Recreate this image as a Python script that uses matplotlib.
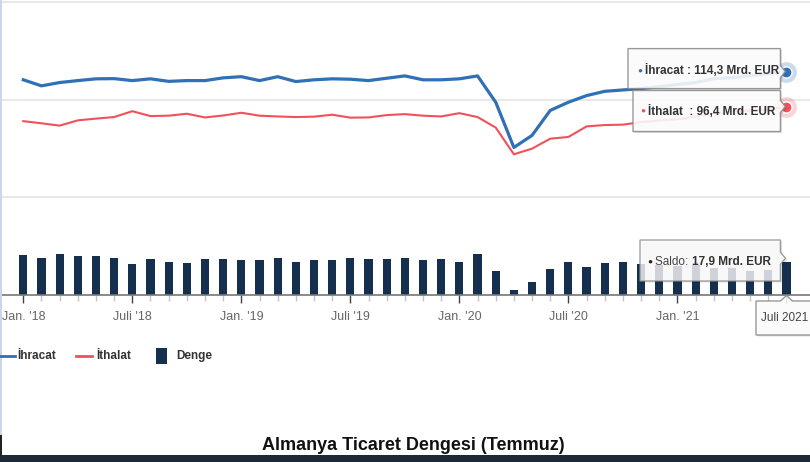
import matplotlib
matplotlib.use("Agg")
import matplotlib.pyplot as plt
from matplotlib.patches import Polygon, Rectangle
from matplotlib.lines import Line2D
from matplotlib.text import Annotation
import numpy as np

plt.rcParams['font.family'] = ['Liberation Sans', 'DejaVu Sans']

# monthly data, Jan 2018 .. Jul 2021 (Mrd. EUR)
aylar = np.arange(43)
ihracat = [110.1, 107.0, 108.7, 109.7, 110.6, 110.7, 109.7, 110.6, 109.3, 109.7,
           109.7, 111.1, 111.7, 109.7, 111.7, 109.2, 110.1, 110.6, 110.4, 109.7,
           110.9, 112.1, 110.1, 110.1, 110.6, 112.1, 98.6, 75.4, 81.6, 94.4,
           98.6, 102.0, 104.2, 104.9, 105.6, 106.6, 107.7, 108.7, 110.7, 111.2,
           112.2, 113.3, 114.3]
ithalat = [88.9, 87.8, 86.6, 89.3, 90.2, 91.0, 94.0, 91.5, 91.7, 92.7,
           90.8, 91.8, 93.2, 91.7, 91.3, 91.0, 91.2, 92.2, 90.7, 90.8,
           92.0, 92.5, 91.7, 91.3, 93.0, 91.0, 85.6, 71.9, 74.8, 79.9,
           80.8, 86.2, 86.9, 87.1, 88.4, 89.3, 89.8, 91.3, 92.9, 93.9,
           94.4, 94.9, 96.4]
denge = [21.9, 20.4, 22.7, 21.4, 21.4, 20.4, 16.8, 19.7, 18.2, 17.5,
         19.7, 19.7, 19.0, 18.9, 20.3, 18.1, 18.9, 18.9, 20.3, 19.6,
         19.6, 20.3, 18.9, 19.6, 18.1, 22.5, 12.9, 2.5, 7.1, 14.4,
         18.1, 15.1, 17.3, 18.1, 17.0, 16.5, 16.0, 16.5, 15.0, 15.0,
         13.2, 13.5, 17.9]
tick_pos = [0, 6, 12, 18, 24, 30, 36, 42]
tick_lbl = ["Jan. '18", "Juli '18", "Jan. '19", "Juli '19", "Jan. '20", "Juli '20", "Jan. '21", ""]
son_ay = "Juli 2021"
baslik = "Almanya Ticaret Dengesi (Temmuz)"

W, H = 810, 462
MAVI = '#2f70b6'
KIRMIZI = '#f2505a'
LACIVERT = '#15304e'


def fp(px, py):
    # pixel (from top-left) -> figure fraction
    return (px / W, 1 - py / H)


fig = plt.figure(figsize=(W / 100, H / 100), dpi=100)
xlim = (-23.3 / 18.17, (W - 23.3) / 18.17)

# upper panel: export / import lines
ax1 = fig.add_axes([0, 1 - 197 / H, 1, 195 / H])
ax1.set_xlim(*xlim)
ax1.set_ylim(50, 150)
ax1.set_yticks([50, 100, 150])
ax1.grid(axis='y', color='#e8e8e8', lw=1.5)
for gl in ax1.get_ygridlines():
    gl.set_clip_on(False)
ax1.tick_params(left=False, bottom=False, labelleft=False, labelbottom=False)
for s in ax1.spines.values():
    s.set_visible(False)
ax1.plot(aylar, ihracat, color=MAVI, lw=2.3, solid_joinstyle='round')
ax1.plot(aylar, ithalat, color=KIRMIZI, lw=1.5, solid_joinstyle='round')
for seri, renk in [(ihracat, MAVI), (ithalat, KIRMIZI)]:
    ax1.plot(aylar[-1], seri[-1], 'o', ms=15, color=renk, alpha=0.25, mec='none', clip_on=False, zorder=5)
    ax1.plot(aylar[-1], seri[-1], 'o', ms=8, color=renk, mec='white', mew=1, clip_on=False, zorder=6)

# lower panel: balance bars
ax2 = fig.add_axes([0, 1 - 294.5 / H, 1, 94.5 / H])
ax2.set_xlim(*xlim)
ax2.set_ylim(0, 94.5 / 1.8)
ax2.bar(aylar, denge, width=0.45, color=LACIVERT)
for k in ['top', 'left', 'right']:
    ax2.spines[k].set_visible(False)
ax2.spines['bottom'].set_color('#777777')
ax2.spines['bottom'].set_linewidth(1.2)
ax2.set_yticks([])
ax2.set_xticks(tick_pos)
ax2.set_xticklabels(tick_lbl, fontsize=9, color='#666666')
ax2.set_xticks(aylar, minor=True)
ax2.tick_params(axis='x', which='major', length=6, width=1, color='#444444', pad=6)
ax2.tick_params(axis='x', which='minor', length=4, width=1, color='#c4c4c4')


def tooltip(x0, y0, x1, y1, tip, kenar='right', alpha=0.88):
    tx, ty = tip
    if kenar == 'right':
        pts = [(x0, y0), (x1, y0), (x1, ty - 6), (tx, ty), (x1, ty + 6), (x1, y1), (x0, y1)]
    else:
        pts = [(x0, y0), (tx - 6, y0), (tx, ty), (tx + 6, y0), (x1, y0), (x1, y1), (x0, y1)]
    golge = Polygon([fp(px + 1.5, py + 1.5) for px, py in pts], closed=True,
                    transform=fig.transFigure, fc='#000000', alpha=0.12, ec='none', zorder=20)
    kutu = Polygon([fp(px, py) for px, py in pts], closed=True, transform=fig.transFigure,
                   fc='white', alpha=alpha, ec='#8a8a8a', lw=1, zorder=21)
    fig.patches.extend([golge, kutu])


def px_of(ax, x, y):
    dx, dy = ax.transData.transform((x, y))
    return dx, H - dy


tip1 = px_of(ax1, aylar[-1], ihracat[-1])
tip2 = px_of(ax1, aylar[-1], ithalat[-1])
tip3 = px_of(ax2, aylar[-1], denge[-1])
tip4 = px_of(ax2, aylar[-1], 0)


def fmt(v):
    return f"{v:.1f}".replace('.', ',')


tooltip(628, tip1[1] - 23, tip1[0] - 6, tip1[1] + 17, (tip1[0] - 1, tip1[1]))
fig.text(*fp(640, tip1[1] - 1), '●', color=MAVI, fontsize=6, ha='center', va='center', zorder=22)
fig.text(*fp(645, tip1[1] - 1), f"İhracat : {fmt(ihracat[-1])} Mrd. EUR", fontsize=8.5,
         fontweight='bold', color='#333333', va='center', zorder=22)

tooltip(633, tip2[1] - 16, tip2[0] - 6, tip2[1] + 25, (tip2[0] - 1, tip2[1]))
fig.text(*fp(643, tip2[1] + 5), '●', color=KIRMIZI, fontsize=6, ha='center', va='center', zorder=22)
fig.text(*fp(648, tip2[1] + 5), f"İthalat  : {fmt(ithalat[-1])} Mrd. EUR", fontsize=8.5,
         fontweight='bold', color='#333333', va='center', zorder=22)

tooltip(640, 240, tip3[0] - 6, 281, (tip3[0] - 1, tip3[1] - 4), alpha=0.8)
fig.text(*fp(650, 262), '●', color='#222222', fontsize=6, ha='center', va='center', zorder=22)
t_saldo = fig.text(*fp(655, 262), "Saldo: ", fontsize=8.5, color='#444444', va='center', zorder=22)
fig.add_artist(Annotation(
    f"{fmt(denge[-1])} Mrd. EUR", xy=(1, 0), xycoords=t_saldo, va='bottom', fontsize=8.5,
    fontweight='bold', color='#333333', zorder=22))

tooltip(756, 301, 830, 335, (tip4[0], tip4[1] + 1), kenar='top')
fig.text(*fp(761, 318), son_ay, fontsize=8.5, color='#444444', va='center', zorder=22)

# legend
fig.add_artist(Line2D([0 / W, 15 / W], [1 - 356 / H] * 2, color=MAVI, lw=2))
fig.text(*fp(17, 356), "İhracat", fontsize=8.5, fontweight='bold', color='#333333', va='center')
fig.add_artist(Line2D([76 / W, 92 / W], [1 - 356 / H] * 2, color=KIRMIZI, lw=2))
fig.text(*fp(96, 356), "İthalat", fontsize=8.5, fontweight='bold', color='#333333', va='center')
fig.patches.append(Rectangle(fp(156, 364), 11 / W, 16 / H, transform=fig.transFigure, fc=LACIVERT))
fig.text(*fp(176, 356), "Denge", fontsize=8.5, fontweight='bold', color='#333333', va='center')

# frame bits: left edge, title, bottom band
fig.patches.append(Rectangle(fp(0, 435), 2 / W, 435 / H, transform=fig.transFigure, fc='#c9d7e8', ec='none'))
fig.patches.append(Rectangle(fp(0, 455), 2 / W, 20 / H, transform=fig.transFigure, fc='#222222', ec='none'))
fig.patches.append(Rectangle(fp(0, 462), 1, 7.5 / H, transform=fig.transFigure, fc='#1c2a38', ec='none'))
fig.text(*fp(413, 445), baslik, fontsize=13, fontweight='bold', color='#111111', ha='center', va='center')

fig.savefig('out.png', dpi=100)
